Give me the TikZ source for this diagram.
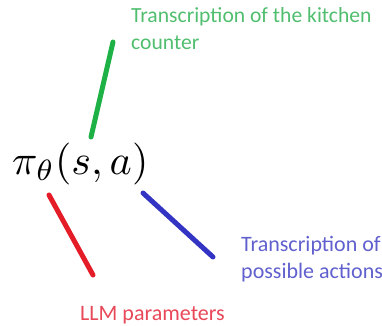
\documentclass[tikz,border=0pt]{standalone}
\usepackage{amsmath}
\usepackage{graphicx}
\usepackage{fontspec}
\newfontfamily\labelfont{Carlito}
\usepackage{tikz}
\definecolor{stateline}{RGB}{30,178,70}
\definecolor{statetext}{RGB}{80,190,110}
\definecolor{paramline}{RGB}{228,28,40}
\definecolor{paramtext}{RGB}{232,72,88}
\definecolor{actline}{RGB}{52,52,196}
\definecolor{acttext}{RGB}{96,96,206}

\begin{document}
\begin{tikzpicture}[x=1pt, y=-1pt, line cap=round, line join=round,
  stroke/.style={line width=5pt},
  caption/.style={inner sep=0pt, align=left, font=\labelfont\fontsize{22}{27}\selectfont}]
  \useasboundingbox (0,0) rectangle (382,325);
  \node[anchor=base west, inner sep=0pt] (pol) at (12,174) {\scalebox{4.2}{$\pi_\theta(s,a)$}};
  \node[caption, anchor=north west, text=statetext, font=\labelfont\fontsize{21.6}{27}\selectfont] (state) at (131,7) {Transcription of the kitchen\\counter};
  \node[caption, anchor=north west, text=acttext] (act) at (241,236) {Transcription of\\possible actions};
  \node[caption, anchor=base west, text=paramtext] (param) at (80,320) {LLM parameters};
  \coordinate (S0) at (91,137);
  \coordinate (S1) at (113,42);
  \coordinate (P0) at (49,195);
  \coordinate (P1) at (93,275);
  \coordinate (A0) at (143,193);
  \coordinate (A1) at (213,257);
  \draw[stroke, stateline] (S0) -- (S1);
  \draw[stroke, paramline] (P0) -- (P1);
  \draw[stroke, actline] (A0) -- (A1);
\end{tikzpicture}
\end{document}
